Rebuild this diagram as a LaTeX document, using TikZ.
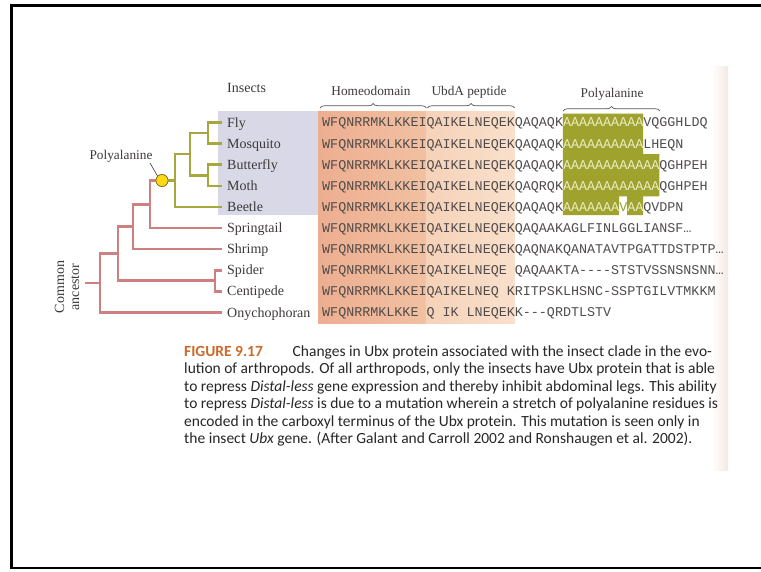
\documentclass[tikz,border=0pt]{standalone}
\usepackage{fontspec}
\setmainfont{Liberation Serif}
\newfontfamily\seqfont{Liberation Mono}
\newfontfamily\capfont{Carlito}
\usetikzlibrary{decorations.pathreplacing}

\definecolor{treepink}{RGB}{206,128,128}
\definecolor{insectolive}{RGB}{166,168,62}
\definecolor{polybox}{RGB}{160,162,46}
\definecolor{polytext}{RGB}{234,236,196}
\definecolor{lavender}{RGB}{216,216,230}
\definecolor{salmonA}{RGB}{237,174,144}
\definecolor{salmonB}{RGB}{242,192,162}
\definecolor{peachA}{RGB}{246,210,184}
\definecolor{peachB}{RGB}{249,224,204}
\definecolor{ink}{RGB}{62,58,58}
\definecolor{seqink}{RGB}{80,76,76}
\definecolor{bracegray}{RGB}{90,86,86}
\definecolor{figlabel}{RGB}{204,106,42}
\definecolor{capink}{RGB}{40,38,38}
\definecolor{dotyellow}{RGB}{250,218,20}
\definecolor{dotrim}{RGB}{140,100,40}
\definecolor{pagetint}{RGB}{246,232,226}

% hyphen that never joins into a dash ligature
\newcommand\hy{-\kern0pt}
\newcommand\ala[1]{\textcolor{polytext}{#1}}

\begin{document}
\begin{tikzpicture}[x=1pt,y=-1pt,
  treeline/.style={draw=treepink,line width=2.6pt,line join=miter},
  insectline/.style={draw=insectolive,line width=2.6pt,line join=miter},
  leaf/.style={anchor=west,inner sep=0pt,text height=9.3pt,text depth=0pt,
    font=\fontsize{14}{16}\selectfont,text=ink},
  seqrow/.style={anchor=west,inner sep=0pt,text height=8.8pt,text depth=0pt,
    font=\seqfont\fontsize{13.38}{15}\selectfont,text=seqink},
  head/.style={anchor=base,inner sep=0pt,font=\fontsize{13.3}{15}\selectfont,text=ink},
  bracebar/.style={draw=bracegray,line width=0.7pt,decorate,
    decoration={brace,amplitude=4.5pt}},
  capline/.style={anchor=base west,inner sep=0pt,
    font=\capfont\fontsize{15.5}{17.5}\selectfont,text=capink},
  leader/.style={draw=ink,line width=0.6pt}
]
\useasboundingbox (0,0) rectangle (761,571);
\fill[white] (0,0) rectangle (761,571);

% faint tint at the edge of the printed page
\shade[left color=white,right color=pagetint] (712,66) rectangle (728,470);

% frame
\draw[line width=2.8pt,line join=miter] (761,5.5) -- (11.5,5.5) -- (11.5,568) -- (761,568);

% background panels
\fill[lavender] (218,111) rectangle (318,215);
\shade[left color=salmonA,right color=salmonB] (318,111) rectangle (426.4,323);
\shade[left color=peachA,right color=peachB] (426.4,111) rectangle (514.7,323);

% polyalanine block (x = 322 + 8.03 i)
\fill[polybox] (562.9,113.5) -- (643.2,113.5) -- (643.2,154.1) -- (659.3,154.1)
  -- (659.3,196.4) -- (643.2,196.4) -- (643.2,215) -- (627.1,215)
  -- (627.1,196.4) -- (619.1,196.4) -- (619.1,215) -- (562.9,215) -- cycle;

% column headings
\node[anchor=west,inner sep=0pt,text height=9.3pt,text depth=0pt,
  font=\fontsize{14}{16}\selectfont,text=ink] (insects) at (227,87.5) {Insects};
\node[head] (homeo) at (371,95) {Homeodomain};
\node[head] (ubda) at (469,95) {UbdA peptide};
\node[head] (polyhead) at (612,97.5) {Polyalanine};
\draw[bracebar] (320,108) -- (426.4,108);
\draw[bracebar] (427.4,108) -- (514.7,108);
\draw[bracebar] (563,111) -- (660,111);

% taxon labels
\node[leaf] (fly)  at (227,122.5) {Fly};
\node[leaf] (mos)  at (227,143.6) {Mosquito};
\node[leaf] (bfly) at (227,164.7) {Butterfly};
\node[leaf] (moth) at (227,185.8) {Moth};
\node[leaf] (beet) at (227,206.9) {Beetle};
\node[leaf] (spr)  at (227,228.0) {Springtail};
\node[leaf] (shr)  at (227,249.1) {Shrimp};
\node[leaf] (spi)  at (227,270.2) {Spider};
\node[leaf] (cen)  at (227,291.3) {Centipede};
\node[leaf] (ony)  at (227,312.4) {Onychophoran};

% sequences
\node[seqrow] (sfly)  at (322,122.5) {WFQNRRMKLKKEIQAIKELNEQEKQAQAQK\ala{AAAAAAAAAA}VQGGHLDQ};
\node[seqrow] (smos)  at (322,143.6) {WFQNRRMKLKKEIQAIKELNEQEKQAQAQK\ala{AAAAAAAAAA}LHEQN};
\node[seqrow] (sbfly) at (322,164.7) {WFQNRRMKLKKEIQAIKELNEQEKQAQAQK\ala{AAAAAAAAAAAA}QGHPEH};
\node[seqrow] (smoth) at (322,185.8) {WFQNRRMKLKKEIQAIKELNEQEKQAQRQK\ala{AAAAAAAAAAAA}QGHPEH};
\node[seqrow] (sbeet) at (322,206.9) {WFQNRRMKLKKEIQAIKELNEQEKQAQAQK\ala{AAAAAAA}\textcolor{polybox}{V}\ala{AA}QVDPN};
\node[seqrow] (sspr)  at (322,228.0) {WFQNRRMKLKKEIQAIKELNEQEKQAQAAKAGLFINLGGLIANSF…};
\node[seqrow] (sshr)  at (322,249.1) {WFQNRRMKLKKEIQAIKELNEQEKQAQNAKQANATAVTPGATTDSTPTP…};
\node[seqrow] (sspi)  at (322,270.2) {WFQNRRMKLKKEIQAIKELNEQE QAQAAKTA\hy\hy\hy\hy STSTVSSNSNSNN…};
\node[seqrow] (scen)  at (322,291.3) {WFQNRRMKLKKEIQAIKELNEQ KRITPSKLHSNC\hy SSPTGILVTMKKM};
\node[seqrow] (sony)  at (322,312.4) {WFQNRRMKLKKE Q IK LNEQEKK\hy\hy\hy QRDTLSTV};

% branching points
\coordinate (fm)   at (208,133.05);
\coordinate (bm)   at (208,175.25);
\coordinate (lep)  at (190,154.15);
\coordinate (ins)  at (175,180.5);
\coordinate (hex)  at (150,204.25);
\coordinate (pan)  at (133,226.7);
\coordinate (sc)   at (215,280.75);
\coordinate (art)  at (118,253.7);
\coordinate (root) at (100,283);
\coordinate (anc)  at (85,283);

% insect clade
\draw[insectline] ([xshift=-5pt]fly.west) -| (fm) |- ([xshift=-5pt]mos.west);
\draw[insectline] ([xshift=-5pt]bfly.west) -| (bm) |- ([xshift=-5pt]moth.west);
\draw[insectline] (fm) -| (lep) |- (bm);
\draw[insectline] (lep) -| (ins) |- ([xshift=-5pt]beet.west);
\node[circle,inner sep=0pt,minimum size=12pt,fill=dotyellow,draw=dotrim,line width=0.6pt]
  (dot) at (162,180.5) {};
\draw[insectline] (ins) -- (dot.east);

% remaining arthropods
\draw[treeline] (dot.west) -| (hex) |- ([xshift=-5pt]spr.west);
\draw[treeline] (hex) -| (pan) |- ([xshift=-5pt]shr.west);
\draw[treeline] ([xshift=-5pt]spi.west) -| (sc) |- ([xshift=-5pt]cen.west);
\draw[treeline] (pan) -| (art) |- (sc);
\draw[treeline] (art) -| (root) |- ([xshift=-5pt]ony.west);
\draw[treeline] (root) -- (anc);

% marker for the polyalanine gain
\node[anchor=base,inner sep=0pt,font=\fontsize{13.3}{15}\selectfont,text=ink]
  (polylab) at (121,159.5) {Polyalanine};
\draw[leader] (150,163) -- (dot.north west);
\node[circle,inner sep=0pt,minimum size=12pt,fill=dotyellow,draw=dotrim,line width=0.6pt]
  at (dot) {};

\node[rotate=90,align=center,inner sep=0pt,text=ink,
  font=\fontsize{14}{15}\selectfont] (ancestor) at (67,287) {Common\\ancestor};

% caption
\node[capline,font=\capfont\bfseries\fontsize{15.5}{17.5}\selectfont,text=figlabel]
  (figno) at (184,356) {FIGURE 9.17};
\node[capline] (cap1) at (292.5,356) {Changes in Ubx protein associated with the insect clade in the evo-};
\node[capline] (cap2) at (184,373.5) {lution of arthropods. Of all arthropods, only the insects have Ubx protein that is able};
\node[capline] (cap3) at (184,391) {to repress \textit{Distal-less} gene expression and thereby inhibit abdominal legs. This ability};
\node[capline] (cap4) at (184,408.5) {to repress \textit{Distal-less} is due to a mutation wherein a stretch of polyalanine residues is};
\node[capline] (cap5) at (184,426) {encoded in the carboxyl terminus of the Ubx protein. This mutation is seen only in};
\node[capline] (cap6) at (184,443.5) {the insect \textit{Ubx} gene. (After Galant and Carroll 2002 and Ronshaugen et al. 2002).};
\end{tikzpicture}
\end{document}
